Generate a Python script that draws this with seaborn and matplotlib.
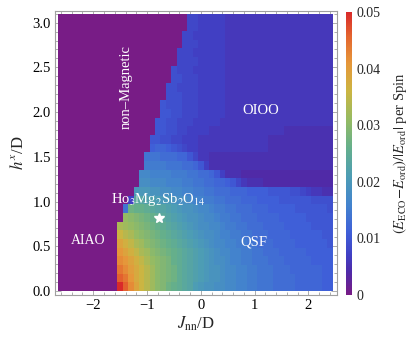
import numpy as np
import pandas as pd
import matplotlib
matplotlib.use("Agg")
import matplotlib.pyplot as plt
from matplotlib.colors import LinearSegmentedColormap
import seaborn as sns

# grid of the phase diagram
J_cols = np.round(np.arange(-2.6, 2.41, 0.1), 1)   # J_nn/D, 51 columns
h_rows = np.round(np.arange(0.0, 3.11, 0.1), 1)    # h^x/D, 32 rows

# first column with a non-zero energy gain (left of it: non-magnetic / AIAO, value 0), per h row
phase_edge_J = [-1.5, -1.5, -1.5, -1.5, -1.5, -1.5, -1.5, -1.5,
                -1.4, -1.4, -1.3, -1.2, -1.1, -1.1, -1.0, -1.0,
                -0.9, -0.9, -0.8, -0.8, -0.7, -0.7, -0.6, -0.6,
                -0.5, -0.5, -0.4, -0.4, -0.3, -0.3, -0.2, -0.2]

# (E_ECO - E_ord)/|E_ord| in units of 1e-3, from phase_edge_J up to J = 2.4, rows h = 0.0 ... 3.1
energy_rows = [
    [50,46,42,39,36,34,32,30,29,27,26,25,24,23,21,20,19,19,18,18,17,17,16,16,15,15,14,14,14,13,13,13,13,12,12,12,12,12,11,11],
    [46,44,41,38,36,34,32,30,29,28,27,25,24,23,22,21,20,19,19,18,17,17,16,16,15,15,14,14,14,13,13,13,13,12,12,12,12,12,11,11],
    [44,42,40,38,36,34,32,30,29,28,27,25,24,23,22,21,20,19,19,18,17,17,16,16,15,15,14,14,14,13,13,13,12,12,12,12,12,12,11,11],
    [42,41,39,37,35,33,31,30,29,28,26,25,24,23,22,21,20,19,18,18,17,16,16,15,15,14,14,14,13,13,13,12,12,12,12,12,11,11,11,11],
    [41,39,37,35,33,32,30,29,28,27,26,25,24,23,22,21,20,19,18,17,17,16,16,15,15,14,14,13,13,13,12,12,12,12,12,11,11,11,11,11],
    [39,37,35,33,32,30,29,28,27,26,25,24,23,22,21,20,19,18,17,17,16,16,15,15,14,14,13,13,13,12,12,12,12,11,11,11,11,11,11,10],
    [36,34,33,31,30,29,28,27,26,25,24,23,22,21,20,19,18,18,17,16,16,15,15,14,14,13,13,13,12,12,12,12,11,11,11,11,11,11,10,10],
    [33,32,31,30,29,28,27,26,25,24,23,22,21,20,19,18,18,17,17,16,15,15,14,14,13,13,13,12,12,12,12,11,11,11,11,11,10,10,10,10],
    [31,30,29,28,27,26,25,24,23,22,21,20,19,19,18,17,17,16,15,15,14,14,13,13,13,12,12,12,12,11,11,11,11,11,10,10,10,10,10],
    [14,27,26,26,25,24,23,23,22,21,20,19,19,18,17,17,16,15,15,14,14,13,13,13,12,12,12,11,11,11,11,11,10,10,10,10,10,10,9],
    [7,24,23,22,22,21,20,20,19,18,18,17,16,16,15,15,14,14,13,13,13,12,12,12,11,11,11,11,10,10,10,10,10,10,9,9,9,9],
    [20,20,20,19,19,18,18,17,17,16,16,15,15,14,14,13,13,13,12,12,12,11,11,11,11,10,10,10,10,9,9,8,7,6,6,5,5],
    [18,18,17,17,17,16,16,16,15,15,14,14,13,13,12,12,11,10,8,6] + [5, 5, 5] + [4] * 13,
    [17,17,16,16,16,16,15,15,15,14,14,13,13,12,10,7,5,5,5] + [4] * 17,
    [15,15,15,15,14,14,14,13,13,12,10,7] + [5] * 23,
    [14,14,14,13,13,13,12,12,10,8,6,6] + [5] * 23,
    [11,12,12,11,10,9,8,7,7] + [6] * 13 + [5] * 12,
    [10,10,9,9,8,8,7,7,7] + [6] * 13 + [5] * 12,
    [10,10,9,9,8,8,7,7,7,7] + [6] * 14 + [5] * 9,
    [10,10,9,9,8,8,8,7,7,7,7,7] + [6] * 21,
    [10,10,9,9,8,8,8,7,7,7,7,7] + [6] * 20,
    [10,9,9,9,8,8,8,7,7,7,7,7] + [6] * 20,
    [9,9,9,8,8,8,7,7,7,7,7] + [6] * 20,
    [9,9,8,8,8,8,7,7,7,7,7] + [6] * 20,
    [9,9,8,8,8,7,7,7,7,7] + [6] * 20,
    [9,8,8,8,7,7,7,7,7,7] + [6] * 20,
    [8,8,8,8,7,7,7,7,7] + [6] * 20,
    [8,8,8,7,7,7,7,7,7] + [6] * 20,
    [8,8,8,7,7,7,7,7] + [6] * 20,
    [8,8,7,7,7,7,7,7] + [6] * 20,
    [8,8,7,7,7,7,7] + [6] * 20,
    [8,8,7,7,7,7,7] + [6] * 20,
]

star_J = [-0.77]
star_h = [0.82]
cbar_ticks = [0, 0.01, 0.02, 0.03, 0.04, 0.05]
cbar_labels = ["0", "0.01", "0.02", "0.03", "0.04", "0.05"]

# build the table
grid = np.zeros((len(h_rows), len(J_cols)))
for i, (edge, vals) in enumerate(zip(phase_edge_J, energy_rows)):
    start = int(np.argmin(np.abs(J_cols - edge)))
    assert len(vals) == len(J_cols) - start, (i, len(vals), len(J_cols) - start)
    grid[i, start:] = np.array(vals) / 1000.0
df = pd.DataFrame(grid, index=h_rows, columns=J_cols).iloc[::-1]

rainbow = LinearSegmentedColormap.from_list("mma_rainbow", [
    (0.00, "#781c86"), (0.08, "#4f2aa8"), (0.14, "#4040c4"), (0.22, "#3f5fd8"),
    (0.32, "#4384cd"), (0.42, "#4d9db4"), (0.52, "#64af8c"), (0.62, "#95bb63"),
    (0.72, "#cbb542"), (0.82, "#e5973a"), (0.91, "#e4682f"), (1.00, "#d92a2a")])

sns.set_theme(style="white")
plt.rcParams['font.family'] = ['Liberation Serif', 'DejaVu Serif']
plt.rcParams['mathtext.fontset'] = 'stix'

# heatmap cells live in index space; map data coords onto it
def x_pos(J):
    return (J - (J_cols[0] - 0.05)) / 0.1

def y_pos(h):
    return (h_rows[-1] - h) / h_rows[-1] * len(h_rows)

fig = plt.figure(figsize=(4.15, 3.42), dpi=100)
ax = fig.add_axes([55 / 415, 1 - 295 / 342, 282 / 415, 284 / 342])
cax = fig.add_axes([346 / 415, 1 - 295 / 342, 6 / 415, 283 / 342])

sns.heatmap(df, ax=ax, cbar_ax=cax, cmap=rainbow, vmin=0, vmax=0.05,
            xticklabels=False, yticklabels=False)

ax.set_xlim(x_pos(-2.71), x_pos(2.53))
ax.set_ylim(y_pos(-0.045), y_pos(3.13))
for s in ax.spines.values():
    s.set_visible(True)
    s.set_color('#a0a0a0')
    s.set_linewidth(0.8)

xt = [-2, -1, 0, 1, 2]
ax.set_xticks([x_pos(v) for v in xt])
ax.set_xticklabels(["\u22122", "\u22121", "0", "1", "2"])
ax.set_xticks([x_pos(v) for v in np.arange(-2.6, 2.5, 0.2)], minor=True)
yt = [0.0, 0.5, 1.0, 1.5, 2.0, 2.5, 3.0]
ax.set_yticks([y_pos(v) for v in yt])
ax.set_yticklabels(["{:.1f}".format(v) for v in yt], rotation=0)
ax.set_yticks([y_pos(v) for v in np.arange(0, 3.15, 0.1)], minor=True)
ax.tick_params(which='both', direction='in', top=True, right=True, bottom=True, left=True,
               color='#a0a0a0', width=0.6, labelsize=10.5, labelcolor='black')
ax.tick_params(which='major', length=4, pad=3)
ax.tick_params(which='minor', length=2)

ax.set_xlabel(r"$J_{\rm nn}$/D", fontsize=12, labelpad=2)
ax.set_ylabel(r"$h^{x}$/D", fontsize=12, labelpad=4)

txt = dict(color='white', ha='center', va='center')
ax.text(x_pos(-1.39), y_pos(2.28), "non\u2013Magnetic", rotation=90, fontsize=10.5, **txt)
ax.text(x_pos(1.12), y_pos(2.02), "OIOO", fontsize=10.5, **txt)
ax.text(x_pos(0.99), y_pos(0.55), "QSF", fontsize=10.5, **txt)
ax.text(x_pos(-2.09), y_pos(0.56), "AIAO", fontsize=10, **txt)
ax.text(x_pos(-0.79), y_pos(1.02), r"Ho$_3$Mg$_2$Sb$_2$O$_{14}$", fontsize=10.5, **txt)
ax.plot([x_pos(j) for j in star_J], [y_pos(h) for h in star_h], ls='none',
        marker='*', ms=7, color='white', mec='white')

cbar = ax.collections[0].colorbar
cbar.outline.set_visible(False)
cbar.set_ticks(cbar_ticks)
cbar.set_ticklabels(cbar_labels)
cax.tick_params(length=0, labelsize=10, pad=3)
cbar.set_label(r"$(E_{\rm ECO}\!-\!E_{\rm ord})/|E_{\rm ord}|$ per Spin", fontsize=10.5,
               rotation=90, labelpad=8)

fig.savefig("out.png", dpi=100)
